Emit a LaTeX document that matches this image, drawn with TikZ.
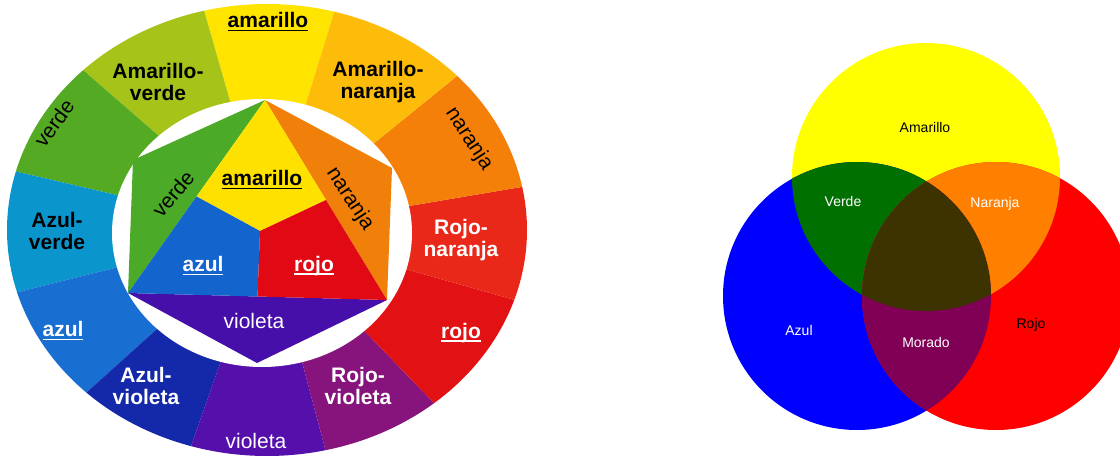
\documentclass[tikz,border=0pt]{standalone}
\usepackage{fontspec}
\setmainfont{Liberation Sans}
\usetikzlibrary{calc}
% outer ring colours
\definecolor{cAm}{RGB}{255,228,0}
\definecolor{cAmNa}{RGB}{253,188,10}
\definecolor{cNa}{RGB}{244,128,10}
\definecolor{cRoNa}{RGB}{234,40,25}
\definecolor{cRo}{RGB}{226,18,20}
\definecolor{cRoVi}{RGB}{135,20,125}
\definecolor{cVi}{RGB}{85,15,170}
\definecolor{cAzVi}{RGB}{20,40,170}
\definecolor{cAz}{RGB}{25,110,210}
\definecolor{cAzVe}{RGB}{10,150,205}
\definecolor{cVe}{RGB}{85,170,35}
\definecolor{cAmVe}{RGB}{165,195,25}
% inner colours
\definecolor{iYel}{RGB}{255,225,0}
\definecolor{iGre}{RGB}{75,170,40}
\definecolor{iOra}{RGB}{240,128,10}
\definecolor{iBlu}{RGB}{20,100,205}
\definecolor{iRed}{RGB}{225,10,20}
\definecolor{iVio}{RGB}{70,15,170}
% venn colours
\definecolor{vY}{RGB}{255,255,0}
\definecolor{vB}{RGB}{0,0,255}
\definecolor{vR}{RGB}{255,0,0}
\definecolor{vG}{RGB}{0,112,0}
\definecolor{vO}{RGB}{255,128,0}
\definecolor{vM}{RGB}{128,0,85}
\definecolor{vC}{RGB}{61,51,0}
\newcommand\myul[1]{\setbox0=\hbox{#1}\leavevmode\rlap{\copy0}\rule[-3.6pt]{\wd0}{1.8pt}}
\begin{document}
\begin{tikzpicture}[x=1pt,y=-1pt,
  lbl/.style={inner sep=0pt, align=center, font=\fontsize{21}{22}\selectfont},
  blbl/.style={inner sep=0pt, align=center, font=\fontsize{21}{22}\selectfont\bfseries},
  vlbl/.style={inner sep=0pt, font=\fontsize{14}{16}\selectfont}]
\useasboundingbox[fill=white] (0,0) rectangle (1120,457);
\begin{scope}
\clip (0,0) rectangle (1120,457);
% ---------- colour wheel ----------
\coordinate (W) at (267,230);
\foreach \a/\b/\c in {75/104/cAm, 104/135/cAmVe, 135/165/cVe, 165/196/cAzVe,
  196/226/cAz, 226/253/cAzVi, 253/283/cVi, 283/310/cRoVi, 310/342/cRo,
  342/371/cRoNa, 11/43/cNa, 43/75/cAmNa}{
  \fill[\c] (W) -- ++(-\a:260 and 226)
    arc[start angle=-\a, end angle=-\b, x radius=260, y radius=226] -- cycle;
}
\fill[white] (262,233) ellipse [x radius=150, y radius=134];
\coordinate (T) at (265,100);
\coordinate (UL) at (133,160);
\coordinate (UR) at (392,168);
\coordinate (LL) at (128,293);
\coordinate (LR) at (387,300);
\coordinate (B) at (257,363);
\coordinate (YL) at ($(T)!0.5!(LL)$);
\coordinate (YR) at ($(T)!0.5!(LR)$);
\coordinate (M) at ($(LL)!0.5!(LR)$);
\coordinate (C) at ($(T)!0.6667!(M)$);
\fill[iGre] (T) -- (UL) -- (LL) -- cycle;
\fill[iOra] (T) -- (UR) -- (LR) -- cycle;
\fill[iVio] (LL) -- (LR) -- (B) -- cycle;
\fill[iYel] (T) -- (YR) -- (C) -- (YL) -- cycle;
\fill[iBlu] (YL) -- (C) -- (M) -- (LL) -- cycle;
\fill[iRed] (C) -- (YR) -- (LR) -- (M) -- cycle;
% outer labels
\node[blbl] (oAm) at (268,22) {\myul{amarillo}};
\node[blbl] (oAmVe) at (158,82) {Amarillo-\\verde};
\node[blbl] (oAmNa) at (378,82) {Amarillo-\\naranja};
\node[lbl, rotate=54] (oVe) at (54,123) {verde};
\node[lbl, rotate=-57] (oNa) at (469,139) {naranja};
\node[blbl] (oAzVe) at (57,231) {Azul-\\verde};
\node[blbl, white] (oRoNa) at (461,240) {Rojo-\\naranja};
\node[blbl, white] (oAz) at (63,331) {\myul{azul}};
\node[blbl, white] (oRo) at (461,333) {\myul{rojo}};
\node[blbl, white] (oAzVi) at (146,386) {Azul-\\violeta};
\node[blbl, white] (oRoVi) at (358,386) {Rojo-\\violeta};
\node[lbl, white] (oVi) at (256,441) {violeta};
% inner labels
\node[blbl] (iAm) at (262,180) {\myul{amarillo}};
\node[lbl, rotate=50] (iVe) at (173,194) {verde};
\node[lbl, rotate=-57] (iNa) at (350,199) {naranja};
\node[blbl, white] (iAz) at (203,266) {\myul{azul}};
\node[blbl, white] (iRo) at (314,266) {\myul{rojo}};
\node[lbl, white] (iVi) at (254,321) {violeta};
% ---------- Venn diagram ----------
\coordinate (cy) at (926,177);
\coordinate (cb) at (857,296);
\coordinate (cr) at (996,296);
\fill[vY] (cy) circle[radius=134];
\fill[vB] (cb) circle[radius=134];
\fill[vR] (cr) circle[radius=134];
\begin{scope}
  \clip (cy) circle[radius=134];
  \fill[vG] (cb) circle[radius=134];
  \fill[vO] (cr) circle[radius=134];
\end{scope}
\begin{scope}
  \clip (cb) circle[radius=134];
  \fill[vM] (cr) circle[radius=134];
  \clip (cr) circle[radius=134];
  \fill[vC] (cy) circle[radius=134];
\end{scope}
\node[vlbl] (vAm) at (925,127) {Amarillo};
\node[vlbl, white] (vVe) at (843,201) {Verde};
\node[vlbl, white] (vNa) at (995,204) {Naranja};
\node[vlbl, white] (vAz) at (799,330) {Azul};
\node[vlbl, white] (vMo) at (926,342) {Morado};
\node[vlbl] (vRo) at (1031,325) {Rojo};
\end{scope}
\end{tikzpicture}
\end{document}
